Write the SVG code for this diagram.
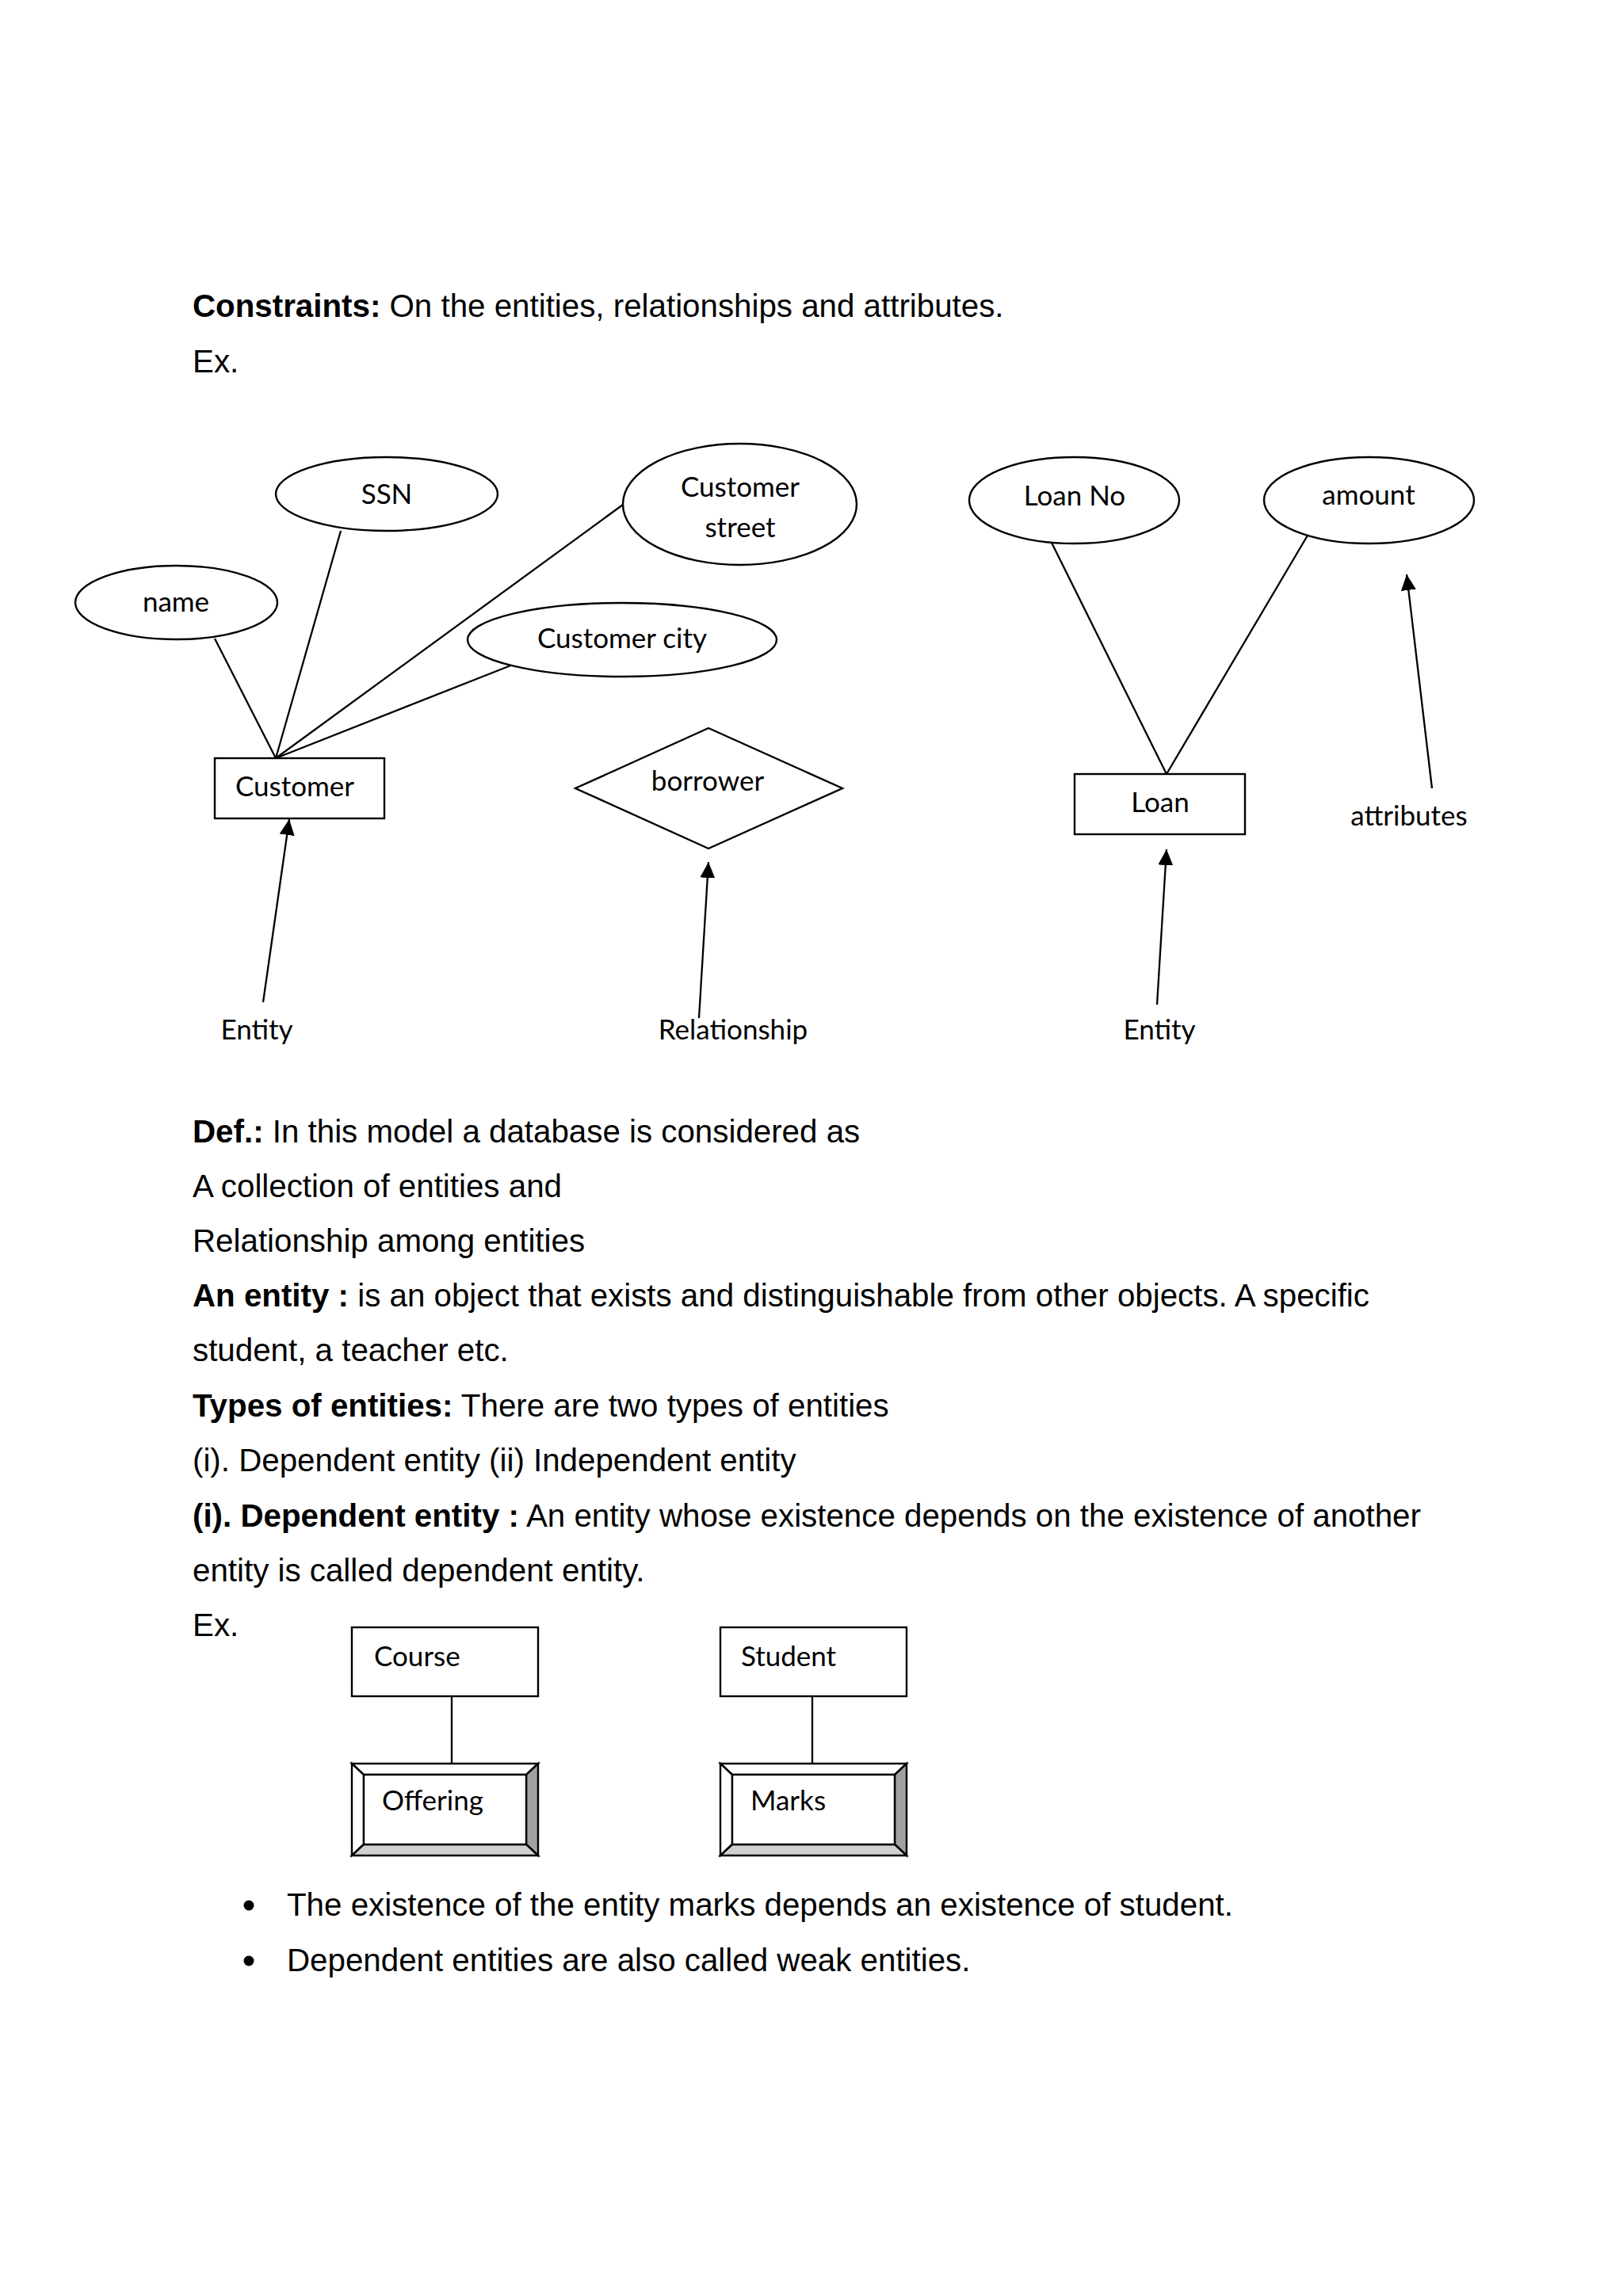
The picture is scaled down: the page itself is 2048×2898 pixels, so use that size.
<svg xmlns="http://www.w3.org/2000/svg" width="2048" height="2898" viewBox="0 0 2048 2898">
<defs>
<style>
.body{font-family:"Liberation Sans",Arial,sans-serif;font-size:40.3px;fill:#000}
.b{font-weight:bold}
.lbl{font-family:Lato,"Open Sans",sans-serif;font-size:35px;fill:#000}
.c{text-anchor:middle}
.shape{fill:#fff;stroke:#000;stroke-width:2.4}
.ln{stroke:#000;stroke-width:2.3;fill:none}
.bev{stroke:#000;stroke-width:2.4;stroke-linejoin:miter}
</style>
<marker id="ah" viewBox="0 0 20 19" refX="20" refY="9.5" markerWidth="20" markerHeight="19" markerUnits="userSpaceOnUse" orient="auto">
<path d="M0,0 L20,9.5 L0,19 z" fill="#000"/>
</marker>
</defs>
<rect width="2048" height="2898" fill="#fff"/>

<g id="text-body">
<text class="body" x="243" y="400"><tspan class="b">Constraints:</tspan> On the entities, relationships and attributes.</text>
<text class="body" x="243" y="470">Ex.</text>
<text class="body" x="243" y="1442"><tspan class="b">Def.:</tspan> In this model a database is considered as</text>
<text class="body" x="243" y="1511">A collection of entities and</text>
<text class="body" x="243" y="1580">Relationship among entities</text>
<text class="body" x="243" y="1649"><tspan class="b">An entity :</tspan> is an object that exists and distinguishable from other objects. A specific</text>
<text class="body" x="243" y="1718">student, a teacher etc.</text>
<text class="body" x="243" y="1788"><tspan class="b">Types of entities:</tspan> There are two types of entities</text>
<text class="body" x="243" y="1857">(i). Dependent entity (ii) Independent entity</text>
<text class="body" x="243" y="1927"><tspan class="b">(i). Dependent entity :</tspan> An entity whose existence depends on the existence of another</text>
<text class="body" x="243" y="1996">entity is called dependent entity.</text>
<text class="body" x="243" y="2065">Ex.</text>
<circle cx="314" cy="2405" r="6.5" fill="#000"/>
<text class="body" x="362" y="2418">The existence of the entity marks depends an existence of student.</text>
<circle cx="314" cy="2475" r="6.5" fill="#000"/>
<text class="body" x="362" y="2488">Dependent entities are also called weak entities.</text>
</g>

<g id="connectors">
<line class="ln" x1="271" y1="806" x2="348" y2="957"/>
<line class="ln" x1="430" y1="670" x2="348" y2="957"/>
<line class="ln" x1="786" y1="637" x2="348" y2="957"/>
<line class="ln" x1="647" y1="839" x2="348" y2="957"/>
<line class="ln" x1="1327" y1="685" x2="1472" y2="977"/>
<line class="ln" x1="1654" y1="669" x2="1472" y2="977"/>
<line class="ln" x1="332" y1="1265" x2="365" y2="1034" marker-end="url(#ah)"/>
<line class="ln" x1="882" y1="1285" x2="894" y2="1088" marker-end="url(#ah)"/>
<line class="ln" x1="1460" y1="1268" x2="1472" y2="1072" marker-end="url(#ah)"/>
<line class="ln" x1="1807" y1="995" x2="1775" y2="725" marker-end="url(#ah)"/>
<line class="ln" x1="570" y1="2141" x2="570" y2="2226"/>
<line class="ln" x1="1025" y1="2141" x2="1025" y2="2226"/>
</g>

<g id="node-name">
<ellipse class="shape" cx="222.5" cy="760.5" rx="127.5" ry="46.5"/>
<text class="lbl c" x="222" y="772">name</text>
</g>
<g id="node-ssn">
<ellipse class="shape" cx="488" cy="623.5" rx="140" ry="46.5"/>
<text class="lbl c" x="488" y="636">SSN</text>
</g>
<g id="node-customer-street">
<ellipse class="shape" cx="933.5" cy="636.5" rx="147.5" ry="76.5"/>
<text class="lbl c" x="934" y="627">Customer</text>
<text class="lbl c" x="934" y="678">street</text>
</g>
<g id="node-customer-city">
<ellipse class="shape" cx="785" cy="807.5" rx="195" ry="46.5"/>
<text class="lbl c" x="785" y="818">Customer city</text>
</g>
<g id="node-customer">
<rect class="shape" x="271" y="957" width="214" height="76"/>
<text class="lbl" x="297" y="1005">Customer</text>
</g>
<g id="node-borrower">
<polygon class="shape" points="894,919 1063,995 894,1071 726,995"/>
<text class="lbl c" x="893" y="998">borrower</text>
</g>
<g id="node-loan-no">
<ellipse class="shape" cx="1355.5" cy="631.5" rx="132.5" ry="54.5"/>
<text class="lbl c" x="1356" y="638">Loan No</text>
</g>
<g id="node-amount">
<ellipse class="shape" cx="1727.5" cy="631.5" rx="132.5" ry="54.5"/>
<text class="lbl c" x="1727" y="637">amount</text>
</g>
<g id="node-loan">
<rect class="shape" x="1356" y="977" width="215" height="76"/>
<text class="lbl c" x="1464" y="1025">Loan</text>
</g>
<g id="labels">
<text class="lbl c" x="324" y="1312">Entity</text>
<text class="lbl c" x="925" y="1312">Relationship</text>
<text class="lbl c" x="1463" y="1312">Entity</text>
<text class="lbl c" x="1778" y="1042">attributes</text>
</g>

<g id="node-course">
<rect class="shape" x="444" y="2054" width="235" height="87"/>
<text class="lbl" x="472" y="2103">Course</text>
</g>
<g id="node-student">
<rect class="shape" x="909" y="2054" width="235" height="87"/>
<text class="lbl" x="935" y="2103">Student</text>
</g>
<g id="node-offering">
<polygon class="bev" fill="#fff" points="444,2226 679,2226 664,2240 459,2240"/>
<polygon class="bev" fill="#fff" points="444,2226 459,2240 459,2328 444,2342"/>
<polygon class="bev" fill="#a0a0a0" points="679,2226 679,2342 664,2328 664,2240"/>
<polygon class="bev" fill="#d0d0d0" points="444,2342 459,2328 664,2328 679,2342"/>
<rect class="shape" x="459" y="2240" width="205" height="88"/>
<text class="lbl" x="482" y="2285">Offering</text>
</g>
<g id="node-marks">
<polygon class="bev" fill="#fff" points="909,2226 1144,2226 1129,2240 924,2240"/>
<polygon class="bev" fill="#fff" points="909,2226 924,2240 924,2328 909,2342"/>
<polygon class="bev" fill="#a0a0a0" points="1144,2226 1144,2342 1129,2328 1129,2240"/>
<polygon class="bev" fill="#d0d0d0" points="909,2342 924,2328 1129,2328 1144,2342"/>
<rect class="shape" x="924" y="2240" width="205" height="88"/>
<text class="lbl" x="947" y="2285">Marks</text>
</g>
</svg>
